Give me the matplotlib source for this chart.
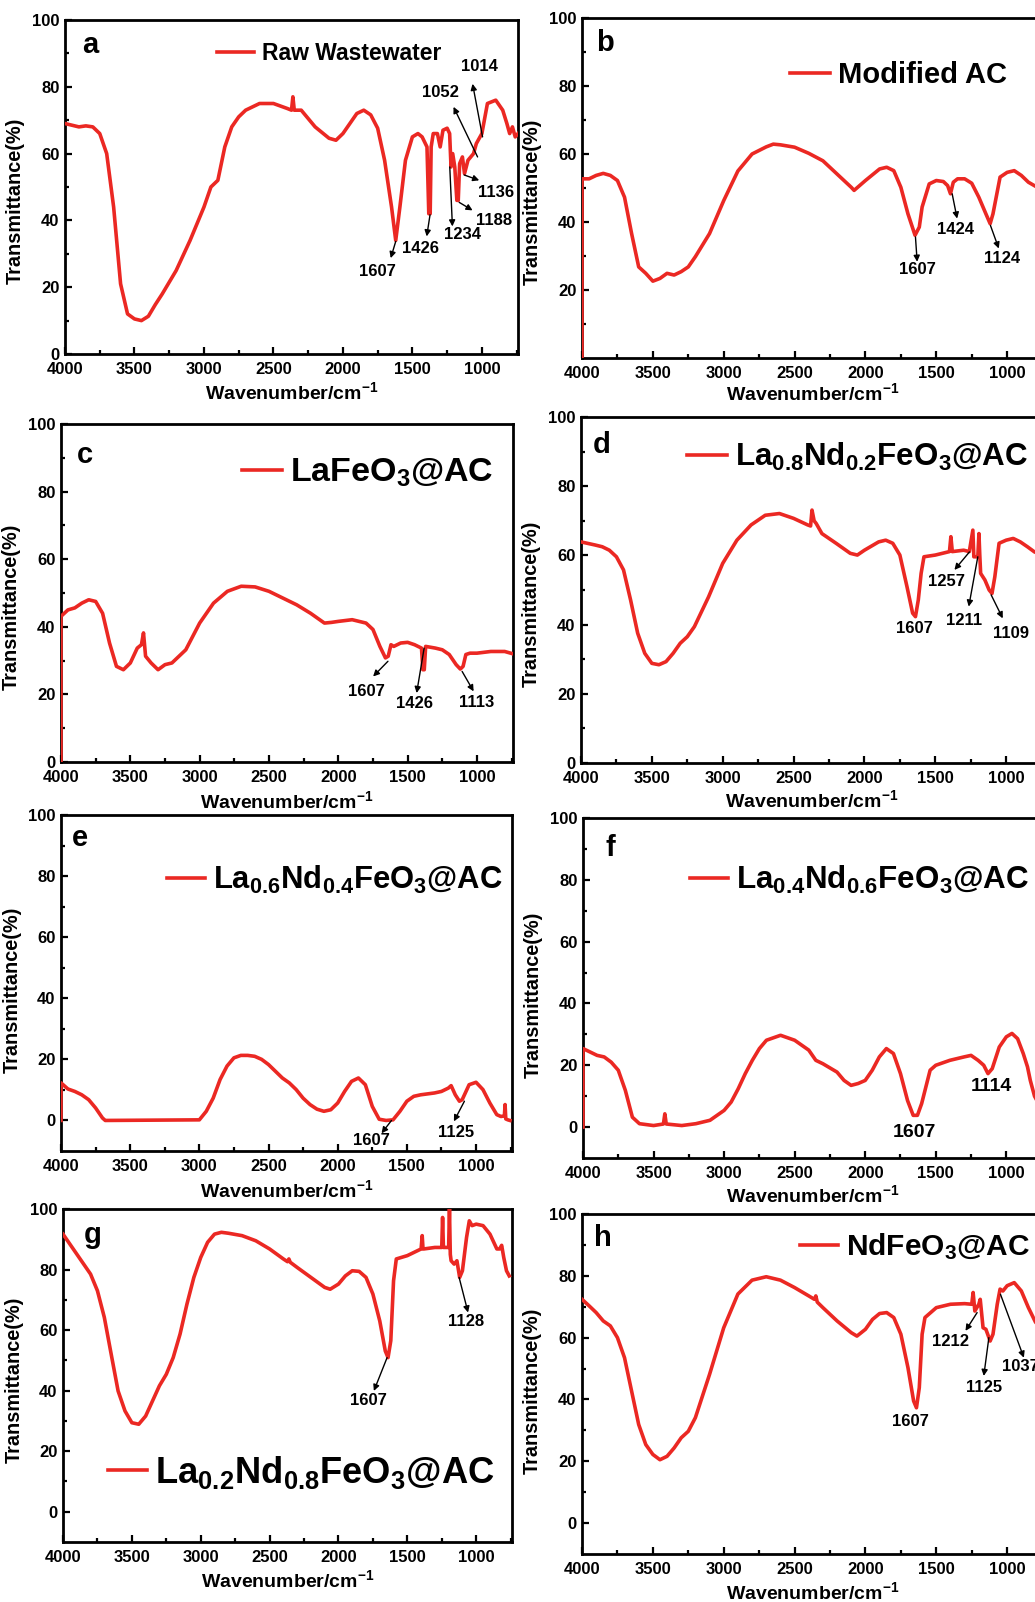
import matplotlib
matplotlib.use('Agg')
import matplotlib.pyplot as plt
from matplotlib.lines import Line2D
from matplotlib.ticker import MultipleLocator, FixedLocator

plt.rcParams['font.family'] = ['Liberation Sans', 'DejaVu Sans']
plt.rcParams['font.weight'] = 'bold'
plt.rcParams['axes.labelweight'] = 'bold'
plt.rcParams['mathtext.fontset'] = 'custom'
plt.rcParams['mathtext.rm'] = 'Liberation Sans:bold'
plt.rcParams['mathtext.it'] = 'Liberation Sans:bold'
plt.rcParams['mathtext.bf'] = 'Liberation Sans:bold'
plt.rcParams['mathtext.sf'] = 'Liberation Sans:bold'

RED = '#eb2823'

# ---------------- data (wavenumber cm-1, transmittance %) ----------------
a_wn = [4000, 3950, 3900, 3850, 3800, 3750, 3700, 3650, 3600, 3550, 3500, 3450, 3400, 3350, 3300, 3200, 3100, 3000, 2950, 2900,
        2850, 2800, 2750, 2700, 2600, 2500, 2400, 2370, 2360, 2350, 2300, 2200, 2100, 2050, 2000, 1950, 1900, 1850, 1800, 1750,
        1700, 1650, 1620, 1590, 1550, 1500, 1460, 1430, 1395, 1382, 1372, 1365, 1350, 1320, 1300, 1280, 1250, 1232, 1222, 1210,
        1195, 1180, 1170, 1160, 1140, 1125, 1100, 1060, 1040, 1000, 960, 900, 850, 820, 800, 780, 760, 740]
a_T = [69, 68.5, 68, 68.3, 68, 66, 60, 44, 21, 12, 10.5, 10, 11.3, 14.8, 18, 25, 34, 44, 50, 52,
       62, 68, 71, 73, 75, 75, 73.5, 73, 77, 73, 73, 68, 64.6, 64, 66, 69, 72, 73, 71.6, 67.6,
       58, 44, 34, 44, 58, 65, 66, 65, 62, 42, 42, 62, 66, 66, 62, 67, 67.6, 66, 56, 60,
       56, 46, 46, 57, 59, 54, 58, 60, 63, 66, 75, 76, 73, 69, 66, 68, 65, 66]

b_wn = [4000, 4000, 3950, 3900, 3850, 3800, 3750, 3700, 3650, 3600, 3550, 3500, 3450, 3400, 3350, 3300, 3250, 3200, 3100, 3000,
        2900, 2800, 2700, 2650, 2600, 2500, 2400, 2300, 2200, 2100, 2080, 2000, 1900, 1850, 1800, 1750, 1700, 1650, 1620, 1600,
        1550, 1500, 1450, 1420, 1400, 1380, 1350, 1300, 1250, 1200, 1150, 1120, 1100, 1050, 1000, 950, 900, 850, 800, 740]
b_T = [0, 52.7, 52.7, 53.7, 54.3, 53.7, 52.2, 47.3, 36.6, 26.8, 24.9, 22.6, 23.4, 24.9, 24.4, 25.4, 26.8, 29.8, 36.6, 46.3,
       55, 60, 62.1, 62.9, 62.7, 62, 60.2, 58, 54.1, 50.2, 49.3, 52.2, 55.6, 56.1, 55.1, 50.2, 42.4, 36.1, 38.5, 44.4,
       51.2, 52.2, 51.9, 50.7, 48.3, 51.7, 52.7, 52.7, 51.4, 47.3, 42.4, 39.5, 42.4, 53.2, 54.6, 55.1, 53.7, 51.7, 50.5, 50]

c_wn = [4000, 4000, 3950, 3900, 3850, 3800, 3750, 3700, 3650, 3600, 3550, 3500, 3450, 3420, 3405, 3390, 3350, 3300, 3250, 3200,
        3100, 3000, 2900, 2800, 2700, 2600, 2500, 2400, 2300, 2200, 2100, 2050, 2000, 1900, 1800, 1750, 1700, 1660, 1640, 1620,
        1600, 1550, 1500, 1450, 1400, 1390, 1380, 1370, 1300, 1250, 1200, 1150, 1120, 1100, 1080, 1050, 1000, 900, 800, 740]
c_T = [0, 43.1, 45, 45.6, 47, 48, 47.5, 44, 35.2, 28.3, 27.3, 29.3, 33.7, 34.7, 38.2, 31.3, 29.3, 27.3, 28.8, 29.3,
       33.2, 41.1, 47, 50.5, 52, 51.8, 50.5, 48.5, 46.5, 44, 41.1, 41.3, 41.6, 42.1, 41.1, 39.2, 34.2, 30.8, 31.3, 34.7,
       34.2, 35.2, 35.4, 34.7, 33.7, 27.3, 27.3, 34.2, 33.7, 33.2, 31.8, 28.8, 27.5, 28.3, 31.8, 32.2, 32.2, 32.7, 32.7, 32]

d_wn = [4000, 3900, 3850, 3800, 3750, 3700, 3650, 3600, 3550, 3500, 3450, 3400, 3350, 3300, 3250, 3200, 3100, 3000, 2900, 2800,
        2700, 2600, 2500, 2400, 2380, 2370, 2355, 2340, 2300, 2200, 2100, 2050, 2000, 1900, 1850, 1800, 1750, 1700, 1660, 1640,
        1620, 1600, 1580, 1500, 1400, 1390, 1380, 1300, 1260, 1235, 1228, 1220, 1200, 1192, 1186, 1180, 1150, 1120, 1100, 1080,
        1050, 1000, 950, 900, 850, 800, 740]
d_T = [63.9, 63, 62.5, 61.5, 59.6, 55.8, 47.1, 37.5, 31.7, 28.8, 28.4, 29.3, 31.7, 34.6, 36.5, 39.4, 48, 57.7, 64.4, 68.8,
       71.6, 72.1, 70.7, 68.8, 68.5, 73.1, 70, 69.2, 66.3, 63.5, 60.6, 60.1, 61.5, 63.9, 64.4, 63.5, 60.1, 51, 43.3, 42.3,
       47.1, 54.8, 59.6, 60.1, 61.1, 65.4, 61.1, 61.5, 61.1, 67.3, 59.6, 59.6, 59.6, 66.3, 60, 54.8, 52.9, 50, 49, 53.8,
       63.5, 64.4, 64.9, 63.9, 62.5, 61, 60]

e_wn = [4000, 4000, 3950, 3900, 3850, 3800, 3750, 3700, 3680, 3000, 2950, 2900, 2850, 2800, 2750, 2700, 2650, 2600, 2550, 2500,
        2450, 2400, 2350, 2300, 2250, 2200, 2150, 2100, 2050, 2000, 1950, 1900, 1850, 1800, 1750, 1700, 1650, 1600, 1550, 1500,
        1450, 1400, 1300, 1250, 1200, 1180, 1150, 1120, 1100, 1050, 1000, 950, 900, 850, 820, 795, 790, 785, 770, 755]
e_T = [0, 12.3, 10.3, 9.5, 8.4, 6.8, 4.1, 0.8, 0, 0.2, 3, 7.3, 13.4, 17.8, 20.5, 21.3, 21.3, 21, 20, 18.3,
       16.1, 13.9, 12.3, 10.1, 7.3, 5.2, 3.7, 3, 3.5, 5.7, 9.5, 12.8, 13.9, 11.7, 4.6, 0.4, 0, 0.2, 3, 6.3,
       7.9, 8.4, 9, 9.5, 10.6, 11.4, 8.4, 6.3, 6.8, 11.7, 12.5, 10.1, 5.7, 1.9, 1.3, 1.5, 5.2, 0.5, 0.2, 0]

f_wn = [4000, 4000, 3950, 3900, 3850, 3800, 3750, 3700, 3650, 3600, 3500, 3430, 3420, 3410, 3300, 3200, 3100, 3000, 2950, 2900,
        2850, 2800, 2750, 2700, 2600, 2500, 2400, 2350, 2300, 2200, 2150, 2100, 2050, 2000, 1950, 1900, 1850, 1800, 1750, 1700,
        1660, 1630, 1600, 1570, 1540, 1500, 1400, 1300, 1250, 1200, 1160, 1130, 1100, 1050, 1000, 960, 920, 880, 850, 830,
        800, 740]
f_T = [0, 25.4, 24.3, 23.2, 22.7, 21, 18.4, 11.9, 3.2, 1.1, 0.5, 1, 4.3, 1, 0.5, 1.1, 2.2, 5.4, 8.1, 12.4,
       17.3, 21.6, 25.4, 28.1, 29.7, 28.1, 24.9, 21.6, 20.5, 17.8, 15.1, 13.5, 14.1, 15.1, 18.4, 22.7, 25.4, 23.8, 17.3, 8.6,
       3.8, 3.8, 7.6, 13, 18.4, 20, 21.6, 22.7, 23.2, 21.6, 20, 17.3, 18.9, 25.9, 29.2, 30.3, 28.6, 23.8, 19.5, 15.1,
       10, 5]

g_wn = [4000, 3950, 3900, 3850, 3800, 3750, 3700, 3650, 3600, 3550, 3500, 3450, 3400, 3350, 3300, 3250, 3200, 3150, 3100, 3050,
        3000, 2950, 2900, 2850, 2800, 2700, 2600, 2500, 2400, 2370, 2360, 2350, 2300, 2200, 2100, 2060, 2000, 1950, 1900, 1850,
        1800, 1750, 1700, 1660, 1640, 1620, 1600, 1580, 1500, 1400, 1392, 1386, 1380, 1300, 1250, 1244, 1238, 1232, 1200, 1194,
        1188, 1182, 1160, 1140, 1120, 1100, 1070, 1050, 1030, 1000, 950, 900, 850, 830, 815, 800, 780, 760]
g_T = [91.7, 88.4, 85.1, 81.8, 78.5, 73, 64.2, 52, 39.9, 33.3, 29.4, 28.9, 31.6, 36.6, 41.6, 45.4, 50.9, 58.7, 68.6, 77.4,
       84, 89, 91.7, 92.3, 92, 91.2, 89.5, 86.8, 83.5, 82.6, 83.5, 82.4, 80.7, 77.4, 74.1, 73.5, 75.2, 77.9, 79.6, 79.4,
       77.4, 71.9, 63, 53.1, 50.9, 56.5, 76.3, 83.5, 84.6, 86.8, 91.2, 86.8, 86.8, 87.3, 87.3, 97.2, 87.3, 87.3, 87.3, 100,
       85, 82.9, 81.8, 82.9, 77.4, 79.6, 90.6, 96.1, 94.5, 95, 94.5, 91.7, 86.8, 86.8, 88, 84, 79.6, 77.9]

h_wn = [4000, 3950, 3900, 3850, 3800, 3750, 3700, 3650, 3600, 3550, 3500, 3450, 3400, 3350, 3300, 3250, 3200, 3100, 3000, 2900,
        2800, 2700, 2600, 2500, 2400, 2360, 2350, 2340, 2300, 2200, 2100, 2060, 2000, 1950, 1900, 1850, 1800, 1750, 1700, 1660,
        1640, 1620, 1600, 1580, 1500, 1400, 1300, 1250, 1240, 1228, 1200, 1190, 1170, 1150, 1120, 1100, 1070, 1050, 1030, 1000,
        950, 900, 850, 800, 740]
h_T = [72.4, 70.3, 68.1, 65.4, 63.8, 60, 53.5, 42.7, 31.9, 25.4, 22.2, 20.5, 21.6, 24.3, 27.6, 29.7, 34.1, 48.1, 63.2, 74.1,
       78.6, 79.7, 78.6, 76.2, 73.5, 72.4, 73.5, 71.5, 69.7, 65.4, 61.6, 60.5, 62.7, 65.9, 67.8, 68.1, 66.5, 61.1, 50.3, 39.5,
       37.3, 43.8, 61.1, 66.5, 69.7, 70.8, 71, 70.8, 74.6, 68.6, 70.8, 72.4, 63.2, 62.7, 58.9, 61.1, 70.8, 75.7, 75.1, 76.8,
       77.8, 75.1, 69.7, 65, 62]

series_labels = ['Raw Wastewater', 'Modified AC', r'LaFeO$_{3}$@AC', r'La$_{0.8}$Nd$_{0.2}$FeO$_{3}$@AC',
                 r'La$_{0.6}$Nd$_{0.4}$FeO$_{3}$@AC', r'La$_{0.4}$Nd$_{0.6}$FeO$_{3}$@AC',
                 r'La$_{0.2}$Nd$_{0.8}$FeO$_{3}$@AC', r'NdFeO$_{3}$@AC']
panel_letters = ['a', 'b', 'c', 'd', 'e', 'f', 'g', 'h']
x_ticks = [4000, 3500, 3000, 2500, 2000, 1500, 1000]

# peak annotations: label, text x, text y, arrow tail x, tail y, head x, head y
a_notes = [('1607', 1752, 24.7, 1620, 33.7, 1656, 28.7), ('1426', 1440, 31.7, 1373, 41.7, 1397, 35.2),
           ('1234', 1139, 35.7, 1231, 56, 1212, 38.2), ('1188', 911, 40, 1163, 45.4, 1067, 43),
           ('1136', 899, 48.4, 1127, 53.6, 1019, 52), ('1052', 1296, 78.3, 1031, 59, 1204, 74),
           ('1014', 1019, 86, 995, 65, 1067, 80.9)]
b_notes = [('1607', 1635, 25.9, 1647, 35.6, 1635, 28.3), ('1424', 1365, 37.8, 1388, 48.3, 1353, 41),
           ('1124', 1035, 29.3, 1118, 39, 1059, 32.2)]
c_notes = [('1607', 1797, 20.9, 1642, 29.8, 1749, 25.3), ('1426', 1452, 17.3, 1381, 33.7, 1435, 20.4),
           ('1113', 1005, 17.7, 1107, 26.8, 1024, 20.9)]
d_notes = [('1607', 1648, 38.9, None, None, None, None), ('1257', 1424, 52.4, 1259, 61, 1365, 55.8),
           ('1211', 1294, 41.3, 1200, 59.6, 1264, 45.2), ('1109', 964, 37.5, 1106, 48.6, 1024, 41.8)]
e_notes = [('1607', 1755, -6.4, 1611, 0, 1683, -4.2), ('1125', 1144, -3.8, 1084, 6.3, 1160, -0.3)]
f_notes = [('1607', 1649, -1.6, None, None, None, None), ('1114', 1106, 13, None, None, None, None)]
g_notes = [('1607', 1779, 36.6, 1647, 50.9, 1743, 39.9), ('1128', 1072, 62.7, 1124, 77.4, 1059, 65.8)]
h_notes = [('1607', 1682, 33, None, None, None, None), ('1212', 1400, 58.9, 1212, 68.1, 1294, 62.2),
           ('1125', 1165, 44, 1129, 60, 1165, 47.6), ('1037', 906, 50.8, 1047, 74, 882, 53.5)]

# ---------------- layout (pixels in a 1035 x 1602 canvas) ----------------
W, H = 1035, 1602
# left, top, width, height
boxes = [(65, 20, 453, 334), (582, 18, 462, 340),
         (61, 424, 452, 338), (581, 417, 462, 346),
         (61, 815, 451, 336), (583, 818, 460, 340),
         (63, 1209, 449, 333), (582, 1214, 462, 340)]
ylims = [(0, 100), (0, 100), (0, 100), (0, 100), (-10, 100), (-10, 100), (-10, 100), (-10, 100)]
yticks = [[0, 20, 40, 60, 80, 100], [20, 40, 60, 80, 100]] + [[0, 20, 40, 60, 80, 100]] * 6
leg_pos = [(0.336, 0.901), (0.450, 0.832), (0.400, 0.855), (0.229, 0.884),
           (0.235, 0.807), (0.233, 0.818), (0.100, 0.210), (0.472, 0.903)]
leg_fs = [16.5, 21, 24.5, 22.6, 22.3, 22.6, 26.2, 21.5]
leg_line_px = [37, 40, 40, 40, 38, 38, 39, 38]
letter_pos = [(0.055, 0.925), (0.05, 0.926), (0.053, 0.908), (0.045, 0.919),
              (0.042, 0.932), (0.059, 0.912), (0.067, 0.922), (0.045, 0.929)]
ylab_y = [0.46, 0.46, 0.46, 0.46, 0.48, 0.48, 0.486, 0.48]
xlab_y = [-0.08, -0.07, -0.084, -0.076, -0.084, -0.078, -0.081, -0.08]
note_fs = [12, 12, 12, 12, 12, 14, 12, 12]

all_wn = [a_wn, b_wn, c_wn, d_wn, e_wn, f_wn, g_wn, h_wn]
all_T = [a_T, b_T, c_T, d_T, e_T, f_T, g_T, h_T]
all_notes = [a_notes, b_notes, c_notes, d_notes, e_notes, f_notes, g_notes, h_notes]

fig = plt.figure(figsize=(W / 100, H / 100), dpi=100)

for i in range(8):
    l, t, w, h = boxes[i]
    ax = fig.add_axes([l / W, 1 - (t + h) / H, w / W, h / H])
    ax.plot(all_wn[i], all_T[i], color=RED, lw=2.6, zorder=3)
    ax.set_xlim(4000, 740)
    ax.set_ylim(*ylims[i])
    ax.xaxis.set_major_locator(FixedLocator(x_ticks))
    ax.xaxis.set_minor_locator(MultipleLocator(250))
    ax.set_yticks(yticks[i])
    ax.yaxis.set_minor_locator(FixedLocator([10, 30, 50, 70, 90]))
    ax.tick_params(which='both', direction='in', top=False, right=False, width=1.6, labelsize=12)
    ax.tick_params(axis='x', pad=5.5)
    ax.tick_params(axis='y', pad=4)
    ax.tick_params(which='major', length=5)
    ax.tick_params(which='minor', length=3)
    for lab in ax.get_xticklabels() + ax.get_yticklabels():
        lab.set_fontweight('bold')
    for sp in ax.spines.values():
        sp.set_linewidth(2.0)
    ax.set_xlabel(r'Wavenumber/cm$^{-1}$', fontsize=14, fontweight='bold')
    ax.set_ylabel('Transmittance(%)', fontsize=14.3, fontweight='bold')
    ax.xaxis.set_label_coords(0.5, xlab_y[i])
    ax.yaxis.set_label_coords(-0.088, ylab_y[i])

    fs_px = leg_fs[i] * 100 / 72
    handle = Line2D([], [], color=RED, lw=2.6)
    ax.legend([handle], [series_labels[i]], loc='center left', bbox_to_anchor=leg_pos[i],
              frameon=False, handlelength=leg_line_px[i] / fs_px, handletextpad=8 / fs_px,
              borderpad=0, borderaxespad=0, prop={'weight': 'bold', 'size': leg_fs[i]})
    ax.text(letter_pos[i][0], letter_pos[i][1], panel_letters[i], transform=ax.transAxes,
            fontsize=21, fontweight='bold', ha='center', va='center')

    for lab, tx, ty, x0, y0, x1, y1 in all_notes[i]:
        ax.text(tx, ty, lab, fontsize=note_fs[i], fontweight='bold', ha='center', va='center', zorder=5)
        if x0 is not None:
            ax.annotate('', xy=(x1, y1), xytext=(x0, y0),
                        arrowprops=dict(arrowstyle='-|>', color='black', lw=1.0,
                                        mutation_scale=9, shrinkA=0, shrinkB=0), zorder=5)

fig.savefig('out.png', dpi=100)
